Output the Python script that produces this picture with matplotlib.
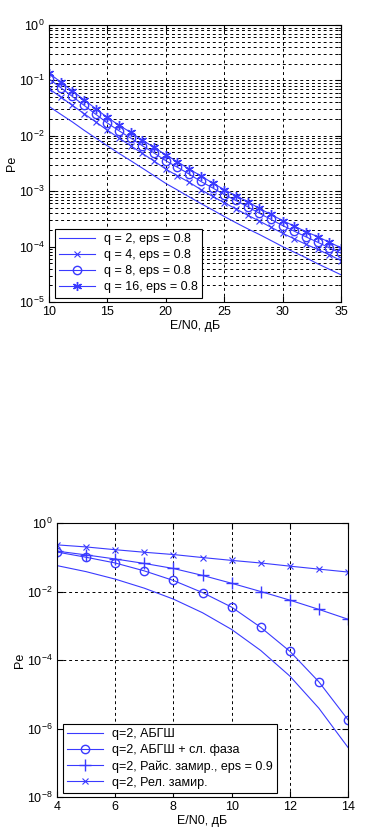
import matplotlib
matplotlib.use("Agg")
import matplotlib.pyplot as plt
from matplotlib.ticker import LogLocator, FixedLocator, NullFormatter

plt.rcParams['font.family'] = ['Liberation Sans', 'DejaVu Sans']
plt.rcParams['mathtext.default'] = 'regular'
plt.rcParams['font.size'] = 9

# ---------------- top chart data ----------------
snr_top = list(range(10, 36))
pe_q2 = [0.0339, 0.0245, 0.0178, 0.0126, 0.0091, 0.0066, 0.0048, 0.00355, 0.0026, 0.0019,
         0.00138, 0.00105, 7.9e-4, 6.0e-4, 4.6e-4, 3.5e-4, 2.7e-4, 2.1e-4, 1.66e-4, 1.29e-4,
         1.0e-4, 7.9e-5, 6.3e-5, 4.9e-5, 3.9e-5, 3.1e-5]
pe_q4 = [0.0708, 0.0501, 0.0355, 0.0251, 0.0178, 0.0126, 0.0091, 0.0066, 0.0048, 0.0035,
         0.0025, 0.0019, 0.00145, 0.00107, 8.1e-4, 6.2e-4, 4.8e-4, 3.7e-4, 2.9e-4, 2.24e-4,
         1.74e-4, 1.38e-4, 1.1e-4, 8.9e-5, 7.1e-5, 5.6e-5]
pe_q8 = [0.106, 0.0741, 0.0513, 0.0355, 0.0245, 0.017, 0.0123, 0.0091, 0.0066, 0.0049,
         0.00355, 0.0027, 0.00204, 0.0015, 0.00115, 8.7e-4, 6.8e-4, 5.25e-4, 4.0e-4, 3.1e-4,
         2.4e-4, 1.9e-4, 1.5e-4, 1.2e-4, 9.5e-5, 7.6e-5]
pe_q16 = [0.135, 0.0933, 0.0646, 0.0447, 0.0309, 0.0214, 0.0155, 0.0115, 0.0083, 0.0062,
          0.0045, 0.0034, 0.0025, 0.0019, 0.0014, 0.00107, 8.3e-4, 6.5e-4, 4.9e-4, 3.8e-4,
          2.95e-4, 2.34e-4, 1.86e-4, 1.51e-4, 1.2e-4, 9.5e-5]
labels_top = ['q = 2, eps = 0.8', 'q = 4, eps = 0.8', 'q = 8, eps = 0.8', 'q = 16, eps = 0.8']
xticks_top = [10, 15, 20, 25, 30, 35]

# ---------------- bottom chart data ----------------
snr_bot = list(range(4, 15))
pe_awgn = [0.057, 0.038, 0.023, 0.0125, 0.006, 0.0024, 7.8e-4, 1.9e-4, 3.4e-5, 3.9e-6, 2.8e-7]
pe_phase = [0.142, 0.10, 0.068, 0.04, 0.021, 0.0093, 0.0035, 9.0e-4, 1.8e-4, 2.3e-5, 1.8e-6]
pe_rice = [0.151, 0.117, 0.089, 0.066, 0.047, 0.0295, 0.0174, 0.01, 0.0056, 0.003, 0.00155]
pe_rayl = [0.23, 0.2, 0.166, 0.14, 0.12, 0.098, 0.081, 0.068, 0.055, 0.045, 0.037]
labels_bot = ['q=2, АБГШ', 'q=2, АБГШ + сл. фаза', 'q=2, Райс. замир., eps = 0.9', 'q=2, Рел. замир.']
xticks_bot = [4, 6, 8, 10, 12, 14]

xlabel = 'E/N0, дБ'
ylabel = 'Pe'

blue = '#3a3aff'
grid_kw = dict(color='black', linestyle=(0, (3, 3)), linewidth=0.7)

fig = plt.figure(figsize=(3.83, 8.34), dpi=100)

# ---------------- top axes ----------------
ax1 = fig.add_axes([49/383, 1-302/834, (341-49)/383, (302-25)/834])
ax1.set_yscale('log')
ax1.set_xlim(10, 35)
ax1.set_ylim(1e-5, 1)
l1, = ax1.plot(snr_top, pe_q2, color=blue, lw=0.8)
l2, = ax1.plot(snr_top, pe_q4, color=blue, lw=0.8, marker='x', ms=4.5, mew=0.8)
l3, = ax1.plot(snr_top, pe_q8, color=blue, lw=0.8, marker='o', ms=6, mfc='none', mew=1.0)
l4, = ax1.plot(snr_top, pe_q16, color=blue, lw=0.8, marker=(6, 2, 0), ms=6.5, mew=1.0)
ax1.set_xticks(xticks_top)
ax1.yaxis.set_major_locator(LogLocator(base=10, numticks=10))
ax1.yaxis.set_minor_locator(LogLocator(base=10, subs=range(2, 10), numticks=20))
ax1.yaxis.set_minor_formatter(NullFormatter())
ax1.grid(True, which='major', **grid_kw)
ax1.grid(True, which='minor', axis='y', **grid_kw)
ax1.set_xlabel(xlabel, labelpad=1)
ax1.set_ylabel(ylabel, labelpad=1)
leg1 = ax1.legend([l1, l2, l3, l4], labels_top, loc='lower left', bbox_to_anchor=(0.02, 0.015),
                  borderaxespad=0, fancybox=False, edgecolor='black', framealpha=1,
                  handlelength=2.9, numpoints=1, borderpad=0.35, labelspacing=0.32,
                  handletextpad=0.7, fontsize=9)
leg1.get_frame().set_linewidth(0.8)

# ---------------- bottom axes ----------------
ax2 = fig.add_axes([57/383, 1-797/834, (348-57)/383, (797-523)/834])
ax2.set_yscale('log')
ax2.set_xlim(4, 14)
ax2.set_ylim(1e-8, 1)
m1, = ax2.plot(snr_bot, pe_awgn, color=blue, lw=0.8)
m2, = ax2.plot(snr_bot, pe_phase, color=blue, lw=0.8, marker='o', ms=6, mfc='none', mew=1.0)
m3, = ax2.plot(snr_bot, pe_rice, color=blue, lw=0.8, marker='+', ms=8, mew=1.0)
m4, = ax2.plot(snr_bot, pe_rayl, color=blue, lw=0.8, marker='x', ms=4.5, mew=0.8)
ax2.set_xticks(xticks_bot)
ax2.yaxis.set_major_locator(FixedLocator([1e-8, 1e-6, 1e-4, 1e-2, 1]))
ax2.yaxis.set_minor_locator(FixedLocator([]))
ax2.grid(True, which='major', **grid_kw)
ax2.set_xlabel(xlabel, labelpad=1)
ax2.set_ylabel(ylabel, labelpad=1)
leg2 = ax2.legend([m1, m2, m3, m4], labels_bot, loc='lower left', bbox_to_anchor=(0.02, 0.015),
                  borderaxespad=0, fancybox=False, edgecolor='black', framealpha=1,
                  handlelength=2.9, numpoints=1, borderpad=0.35, labelspacing=0.32,
                  handletextpad=0.7, fontsize=9)
leg2.get_frame().set_linewidth(0.8)

for ax in (ax1, ax2):
    ax.tick_params(which='both', direction='in', top=True, right=True, labelsize=9, pad=3)
    ax.tick_params(which='major', length=4)
    ax.tick_params(which='minor', length=2)
    for s in ax.spines.values():
        s.set_linewidth(0.8)

fig.savefig('out.png', dpi=100)
